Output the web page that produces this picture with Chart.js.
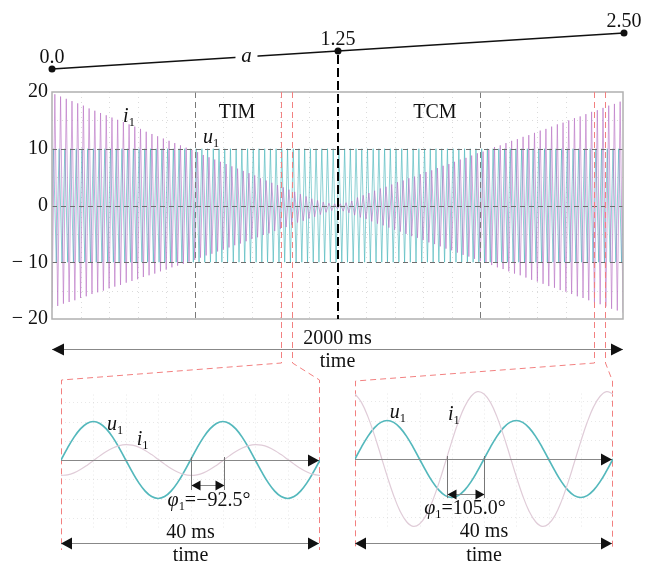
<!DOCTYPE html>
<html>
<head>
<meta charset="utf-8">
<script src="https://cdn.jsdelivr.net/npm/chart.js@4.4.1/dist/chart.umd.min.js"></script>
<style>
  html, body { margin: 0; padding: 0; background: #fff; }
  #wrap { position: relative; width: 645px; height: 563px; }
  #wrap canvas { position: absolute; left: 0; top: 0; }
</style>
</head>
<body>
<div id="wrap">
  <canvas id="mainChart" width="645" height="563"></canvas>
  <canvas id="aChart" width="645" height="563"></canvas>
  <canvas id="timChart" width="645" height="563"></canvas>
  <canvas id="tcmChart" width="645" height="563"></canvas>
</div>
<script>
// ---- data ----
var aVals = [0, 1.25, 2.5];
var aLabels = ['0.0', '1.25', '2.50'];
var yTicks = [-20, -10, 0, 10, 20];

// i1 positive peaks (t = 10, 30, ... 1990 ms)
var i1Max = [19.6, 19.2, 18.8, 18.4, 18.0, 17.6, 17.1, 16.7, 16.3, 15.9,
  15.5, 15.1, 14.7, 14.3, 13.9, 13.5, 13.0, 12.6, 12.2, 11.8,
  11.4, 11.0, 10.6, 10.2, 9.8, 9.4, 8.9, 8.5, 8.1, 7.7,
  7.3, 6.9, 6.5, 6.1, 5.7, 5.3, 4.8, 4.4, 4.0, 3.6,
  3.2, 2.8, 2.4, 2.0, 1.6, 1.2, 0.9, 0.6, 0.4, 0.3,
  0.3, 0.5, 0.8, 1.4, 1.8, 2.2, 2.6, 3.0, 3.3, 3.7,
  4.1, 4.4, 4.8, 5.1, 5.5, 5.9, 6.2, 6.6, 7.0, 7.3,
  7.7, 8.1, 8.4, 8.8, 9.2, 9.5, 9.9, 10.3, 10.6, 11.0,
  11.4, 11.7, 12.1, 12.4, 12.8, 13.2, 13.5, 13.9, 14.3, 14.6,
  15.0, 15.4, 15.7, 16.1, 16.5, 16.8, 17.2, 17.6, 17.9, 18.3];
// i1 negative peaks (t = 0, 20, ... 2000 ms)
var i1Min = [-18.0, -17.7, -17.3, -17.0, -16.7, -16.3, -16.0, -15.6, -15.3, -15.0,
  -14.6, -14.3, -14.0, -13.6, -13.3, -13.0, -12.6, -12.3, -12.0, -11.6,
  -11.3, -10.9, -10.6, -10.3, -9.9, -9.6, -9.2, -8.8, -8.5, -8.1,
  -7.8, -7.4, -7.0, -6.7, -6.3, -5.9, -5.6, -5.2, -4.9, -4.5,
  -4.1, -3.8, -3.4, -3.0, -2.7, -2.3, -2.0, -1.6, -1.2, -0.9,
  -0.6, -1.0, -1.3, -1.7, -2.1, -2.4, -2.8, -3.2, -3.5, -3.9,
  -4.3, -4.6, -5.0, -5.4, -5.7, -6.1, -6.5, -6.8, -7.2, -7.6,
  -7.9, -8.3, -8.7, -9.0, -9.4, -9.8, -10.1, -10.5, -10.9, -11.2,
  -11.6, -12.0, -12.3, -12.7, -13.1, -13.4, -13.8, -14.2, -14.5, -14.9,
  -15.2, -15.6, -16.0, -16.3, -16.7, -17.1, -17.4, -17.8, -18.2, -18.5,
  -18.9];
// u1 peaks (t = 5, 25, ... and t = 15, 35, ... ms)
var u1Max = [10, 10, 10, 10, 10, 10, 10, 10, 10, 10, 10, 10, 10, 10, 10, 10, 10, 10, 10, 10,
  10, 10, 10, 10, 10, 10, 10, 10, 10, 10, 10, 10, 10, 10, 10, 10, 10, 10, 10, 10,
  10, 10, 10, 10, 10, 10, 10, 10, 10, 10, 10, 10, 10, 10, 10, 10, 10, 10, 10, 10,
  10, 10, 10, 10, 10, 10, 10, 10, 10, 10, 10, 10, 10, 10, 10, 10, 10, 10, 10, 10,
  10, 10, 10, 10, 10, 10, 10, 10, 10, 10, 10, 10, 10, 10, 10, 10, 10, 10, 10, 10];
var u1Min = [-10, -10, -10, -10, -10, -10, -10, -10, -10, -10, -10, -10, -10, -10, -10, -10, -10, -10, -10, -10,
  -10, -10, -10, -10, -10, -10, -10, -10, -10, -10, -10, -10, -10, -10, -10, -10, -10, -10, -10, -10,
  -10, -10, -10, -10, -10, -10, -10, -10, -10, -10, -10, -10, -10, -10, -10, -10, -10, -10, -10, -10,
  -10, -10, -10, -10, -10, -10, -10, -10, -10, -10, -10, -10, -10, -10, -10, -10, -10, -10, -10, -10,
  -10, -10, -10, -10, -10, -10, -10, -10, -10, -10, -10, -10, -10, -10, -10, -10, -10, -10, -10, -10];

// 40 ms windows taken from the long record
var zoomWindows = [[802, 842], [1898, 1938]];
var zoomT = [0, 1, 2, 3, 4, 5, 6, 7, 8, 9, 10, 11, 12, 13, 14, 15, 16, 17, 18, 19, 20,
  21, 22, 23, 24, 25, 26, 27, 28, 29, 30, 31, 32, 33, 34, 35, 36, 37, 38, 39, 40];
var zoomU1 = [0, 3.09, 5.88, 8.09, 9.51, 10, 9.51, 8.09, 5.88, 3.09,
  0, -3.09, -5.88, -8.09, -9.51, -10, -9.51, -8.09, -5.88, -3.09,
  0, 3.09, 5.88, 8.09, 9.51, 10, 9.51, 8.09, 5.88, 3.09,
  0, -3.09, -5.88, -8.09, -9.51, -10, -9.51, -8.09, -5.88, -3.09, 0];
var timI1 = [-4.00, -3.85, -3.34, -2.49, -1.40, -0.17, 1.07, 2.21, 3.13, 3.75,
  4.00, 3.85, 3.34, 2.49, 1.40, 0.17, -1.07, -2.21, -3.13, -3.75,
  -4.00, -3.85, -3.34, -2.49, -1.40, -0.17, 1.07, 2.21, 3.13, 3.75,
  4.00, 3.85, 3.34, 2.49, 1.40, 0.17, -1.07, -2.21, -3.13, -3.75, -4.00];
var tcmI1 = [16.9, 14.7, 11.0, 6.27, 0.92, -4.53, -9.53, -13.6, -16.3, -17.5,
  -16.9, -14.7, -11.0, -6.27, -0.92, 4.53, 9.53, 13.6, 16.3, 17.5,
  16.9, 14.7, 11.0, 6.27, 0.92, -4.53, -9.53, -13.6, -16.3, -17.5,
  -16.9, -14.7, -11.0, -6.27, -0.92, 4.53, 9.53, 13.6, 16.3, 17.5, 16.9];
var phaseMarks = [[20.0, 25.1], [14.2, 20.0]];
var phaseText = ['=\u221292.5\u00b0', '=105.0\u00b0'];

// ---- helpers ----
var serif = "'Liberation Serif', 'DejaVu Serif', serif";
function font(size, italic) { return (italic ? 'italic ' : '') + size + 'px ' + serif; }

// parts: [text, style]; style 'i' italic, 's' subscript
function richText(ctx, parts, x, y, size, align) {
  var items = [], w = 0;
  parts.forEach(function (p) {
    var sz = p[1] === 's' ? size * 0.62 : size;
    ctx.font = font(sz, p[1] === 'i');
    var mw = ctx.measureText(p[0]).width;
    items.push({ t: p[0], st: p[1], sz: sz, w: mw });
    w += mw;
  });
  var cx = align === 'center' ? x - w / 2 : x;
  ctx.textAlign = 'left';
  ctx.textBaseline = 'alphabetic';
  ctx.fillStyle = '#111';
  items.forEach(function (it) {
    ctx.font = font(it.sz, it.st === 'i');
    ctx.fillText(it.t, cx, it.st === 's' ? y + size * 0.2 : y);
    cx += it.w;
  });
}
function seg(ctx, x1, y1, x2, y2) {
  ctx.beginPath(); ctx.moveTo(x1, y1); ctx.lineTo(x2, y2); ctx.stroke();
}
function head(ctx, x, y, dir, len, hw) {
  ctx.beginPath();
  ctx.moveTo(x, y);
  ctx.lineTo(x - dir * len, y - hw);
  ctx.lineTo(x - dir * len, y + hw);
  ctx.closePath();
  ctx.fill();
}
function dimArrow(ctx, x1, x2, y, len, hw, both) {
  ctx.save();
  ctx.setLineDash([]);
  ctx.strokeStyle = '#888'; ctx.lineWidth = 1;
  seg(ctx, x1, y + 0.5, x2, y + 0.5);
  ctx.fillStyle = '#111';
  if (both) head(ctx, x1, y + 0.5, -1, len, hw);
  head(ctx, x2, y + 0.5, 1, len, hw);
  ctx.restore();
}

// ---- main record ----
var i1Data = [], u1Data = [{ x: 0, y: 0 }];
for (var j = 0; j < i1Min.length; j++) {
  i1Data.push({ x: 20 * j, y: i1Min[j] });
  if (j < i1Max.length) i1Data.push({ x: 20 * j + 10, y: i1Max[j] });
}
for (var k = 0; k < u1Max.length; k++) {
  u1Data.push({ x: 20 * k + 5, y: u1Max[k] });
  u1Data.push({ x: 20 * k + 15, y: u1Min[k] });
}
u1Data.push({ x: 2000, y: 0 });

var mainDeco = {
  id: 'mainDeco',
  beforeDatasetsDraw: function (chart) {
    var ctx = chart.ctx, a = chart.chartArea, x = chart.scales.x, y = chart.scales.y;
    ctx.save();
    ctx.strokeStyle = 'rgba(0,0,0,0.14)'; ctx.lineWidth = 1; ctx.setLineDash([1, 4]);
    for (var t = 100; t < 2000; t += 100) {
      var px = Math.round(x.getPixelForValue(t)) + 0.5;
      seg(ctx, px, a.top, px, a.bottom);
    }
    [-15, -5, 5, 15].forEach(function (v) {
      var py = Math.round(y.getPixelForValue(v)) + 0.5;
      seg(ctx, a.left, py, a.right, py);
    });
    ctx.restore();
  },
  afterDatasetsDraw: function (chart) {
    var ctx = chart.ctx, a = chart.chartArea, x = chart.scales.x, y = chart.scales.y;
    ctx.save();
    // dashed level lines
    ctx.strokeStyle = '#6e6e6e'; ctx.lineWidth = 1; ctx.setLineDash([5, 4]);
    [-10, 0, 10].forEach(function (v) {
      var py = Math.round(y.getPixelForValue(v)) + 0.5;
      seg(ctx, a.left, py, a.right, py);
    });
    ctx.strokeStyle = '#7a7a7a'; ctx.setLineDash([6, 4]);
    [500, 1500].forEach(function (t) {
      var px = Math.round(x.getPixelForValue(t)) + 0.5;
      seg(ctx, px, a.top, px, a.bottom);
    });
    // frame
    ctx.setLineDash([]);
    ctx.strokeStyle = '#b0b0b0'; ctx.lineWidth = 1.5;
    ctx.strokeRect(a.left, a.top, a.right - a.left, a.bottom - a.top);
    // labels
    ctx.font = font(20, false); ctx.fillStyle = '#111'; ctx.textAlign = 'center';
    ctx.textBaseline = 'alphabetic';
    ctx.fillText('TIM', x.getPixelForValue(648), y.getPixelForValue(15.4));
    ctx.fillText('TCM', x.getPixelForValue(1341), y.getPixelForValue(15.4));
    richText(ctx, [['i', 'i'], ['1', 's']], x.getPixelForValue(249), y.getPixelForValue(14.7), 20, 'left');
    richText(ctx, [['u', 'i'], ['1', 's']], x.getPixelForValue(529), y.getPixelForValue(11.0), 20, 'left');
    // time span
    dimArrow(ctx, a.left, a.right, 349, 12, 6, true);
    ctx.font = font(20, false); ctx.fillStyle = '#111'; ctx.textAlign = 'center';
    var mid = (a.left + a.right) / 2;
    ctx.fillText('2000 ms', mid, 344);
    ctx.fillText('time', mid, 367);
    ctx.restore();
  }
};

var mainChart = new Chart(document.getElementById('mainChart'), {
  type: 'line',
  data: {
    datasets: [
      { label: 'i1', data: i1Data, borderColor: 'rgba(184,112,196,0.62)', borderWidth: 1, pointRadius: 0, tension: 0 },
      { label: 'u1', data: u1Data, borderColor: 'rgba(70,180,186,0.62)', borderWidth: 1, pointRadius: 0, tension: 0 }
    ]
  },
  options: {
    responsive: false,
    animation: false,
    devicePixelRatio: 1,
    layout: { padding: { left: 0, right: 22, top: 92, bottom: 244 } },
    plugins: { legend: { display: false }, tooltip: { enabled: false } },
    scales: {
      x: { type: 'linear', min: 0, max: 2000, display: false },
      y: {
        min: -20, max: 20,
        afterFit: function (s) { s.width = 52; },
        afterBuildTicks: function (s) { s.ticks = yTicks.map(function (v) { return { value: v }; }); },
        grid: { display: false, drawTicks: false },
        border: { display: false },
        ticks: {
          padding: 4, color: '#111', font: { family: serif, size: 20 },
          callback: function (v) { return v < 0 ? '\u2212 ' + (-v) : String(v); }
        }
      }
    }
  },
  plugins: [mainDeco]
});

// ---- parameter a ----
var aDeco = {
  id: 'aDeco',
  afterDatasetsDraw: function (chart) {
    var ctx = chart.ctx, x = chart.scales.x, y = chart.scales.y;
    ctx.save();
    // marker down to the record at a = 1.25
    ctx.strokeStyle = '#000'; ctx.lineWidth = 2; ctx.setLineDash([9, 4]);
    var px = Math.round(x.getPixelForValue(1.25));
    seg(ctx, px, y.getPixelForValue(1.25) + 4, px, mainChart.chartArea.bottom);
    ctx.setLineDash([]);
    ctx.font = font(20, false); ctx.fillStyle = '#111'; ctx.textAlign = 'center';
    aVals.forEach(function (v, i) {
      ctx.fillText(aLabels[i], x.getPixelForValue(v), y.getPixelForValue(v) - 6);
    });
    // symbol a sitting on the line
    var ax = x.getPixelForValue(0.85), ay = y.getPixelForValue(0.85);
    ctx.fillStyle = '#fff';
    ctx.fillRect(ax - 11, ay - 8, 22, 14);
    ctx.fillStyle = '#111'; ctx.font = font(21, true);
    ctx.fillText('a', ax, ay + 5);
    ctx.restore();
  }
};
new Chart(document.getElementById('aChart'), {
  type: 'scatter',
  data: {
    datasets: [{
      data: aVals.map(function (v) { return { x: v, y: v }; }),
      showLine: true, borderColor: '#111', borderWidth: 1.6,
      pointRadius: 3.5, pointBackgroundColor: '#111', pointBorderWidth: 0, clip: false
    }]
  },
  options: {
    responsive: false, animation: false, devicePixelRatio: 1,
    layout: { padding: { left: 52, right: 21, top: 33, bottom: 494 } },
    plugins: { legend: { display: false }, tooltip: { enabled: false } },
    scales: {
      x: { type: 'linear', min: 0, max: 2.5, display: false },
      y: { type: 'linear', min: 0, max: 2.5, display: false }
    }
  },
  plugins: [aDeco]
});

// ---- zoomed 40 ms windows ----
function makeZoom(id, w, i1Vals, cfg) {
  var deco = {
    id: 'zoomDeco' + w,
    beforeDatasetsDraw: function (chart) {
      var ctx = chart.ctx, a = chart.chartArea, x = chart.scales.x, y = chart.scales.y;
      var mx = mainChart.scales.x, mTop = mainChart.chartArea.top;
      ctx.save();
      ctx.strokeStyle = 'rgba(0,0,0,0.09)'; ctx.lineWidth = 1; ctx.setLineDash([1, 3]);
      for (var t = 5; t < 40; t += 5) {
        var px = Math.round(x.getPixelForValue(t)) + 0.5;
        seg(ctx, px, y.getPixelForValue(17), px, y.getPixelForValue(-18));
      }
      [-15, -10, -5, 5, 10, 15].forEach(function (v) {
        var py = Math.round(y.getPixelForValue(v)) + 0.5;
        seg(ctx, a.left, py, a.right, py);
      });
      // red zoom frame from the long record
      ctx.strokeStyle = 'rgb(242,128,128)'; ctx.lineWidth = 1; ctx.setLineDash([6, 4]);
      var xl = Math.round(mx.getPixelForValue(zoomWindows[w][0])) + 0.5;
      var xr = Math.round(mx.getPixelForValue(zoomWindows[w][1])) + 0.5;
      var el = Math.round(a.left) + 0.5, er = Math.round(a.right) - 0.5;
      ctx.beginPath();
      ctx.moveTo(xl, mTop); ctx.lineTo(xl, 363); ctx.lineTo(el, cfg.cornerY); ctx.lineTo(el, 550);
      ctx.moveTo(xr, mTop); ctx.lineTo(xr, 363); ctx.lineTo(er, cfg.cornerY); ctx.lineTo(er, 550);
      ctx.stroke();
      ctx.restore();
    },
    afterDatasetsDraw: function (chart) {
      var ctx = chart.ctx, a = chart.chartArea, x = chart.scales.x, y = chart.scales.y;
      ctx.save();
      var y0 = Math.round(y.getPixelForValue(0));
      dimArrow(ctx, a.left, a.right - 1, y0, 11, 6, false);
      // phase marker
      var p1 = Math.round(x.getPixelForValue(phaseMarks[w][0])) + 0.5;
      var p2 = Math.round(x.getPixelForValue(phaseMarks[w][1])) + 0.5;
      ctx.strokeStyle = '#777'; ctx.lineWidth = 1;
      seg(ctx, p1, y0 - 3, p1, cfg.markBottom);
      seg(ctx, p2, y0 - 3, p2, cfg.markBottom);
      dimArrow(ctx, p1, p2, cfg.markArrowY, 9, 5, true);
      richText(ctx, [['\u03c6', 'i'], ['1', 's'], [phaseText[w], '']], cfg.phaseX, cfg.phaseY, 20, 'center');
      richText(ctx, [['u', 'i'], ['1', 's']], x.getPixelForValue(cfg.uLab[0]), y.getPixelForValue(cfg.uLab[1]), 20, 'left');
      richText(ctx, [['i', 'i'], ['1', 's']], x.getPixelForValue(cfg.iLab[0]), y.getPixelForValue(cfg.iLab[1]), 20, 'left');
      // duration
      dimArrow(ctx, a.left, a.right - 1, 543, 11, 6, true);
      var mid = (a.left + a.right) / 2;
      ctx.font = font(20, false); ctx.fillStyle = '#111'; ctx.textAlign = 'center';
      ctx.fillText('40 ms', mid, cfg.msY);
      ctx.fillText('time', mid, 561);
      ctx.restore();
    }
  };
  return new Chart(document.getElementById(id), {
    type: 'line',
    data: {
      datasets: [
        { label: 'i1', data: zoomT.map(function (t, n) { return { x: t, y: i1Vals[n] }; }),
          borderColor: 'rgb(224,204,216)', borderWidth: 1.2, pointRadius: 0, tension: 0.4 },
        { label: 'u1', data: zoomT.map(function (t, n) { return { x: t, y: zoomU1[n] }; }),
          borderColor: 'rgb(84,184,188)', borderWidth: 1.7, pointRadius: 0, tension: 0.4 }
      ]
    },
    options: {
      responsive: false, animation: false, devicePixelRatio: 1,
      layout: { padding: cfg.padding },
      plugins: { legend: { display: false }, tooltip: { enabled: false } },
      scales: {
        x: { type: 'linear', min: 0, max: 40, display: false },
        y: { type: 'linear', min: -20, max: 20, display: false }
      }
    },
    plugins: [deco]
  });
}

makeZoom('timChart', 0, timI1, {
  padding: { left: 61, right: 325, top: 383, bottom: 26 },
  cornerY: 380, markBottom: 490, markArrowY: 485, phaseX: 209, phaseY: 506, msY: 538,
  uLab: [7.1, 7.8], iLab: [11.7, 3.9]
});
makeZoom('tcmChart', 1, tcmI1, {
  padding: { left: 355, right: 32, top: 382, bottom: 27 },
  cornerY: 381, markBottom: 498, markArrowY: 494, phaseX: 465, phaseY: 514, msY: 537,
  uLab: [5.4, 10.6], iLab: [14.4, 10.1]
});
</script>
</body>
</html>
